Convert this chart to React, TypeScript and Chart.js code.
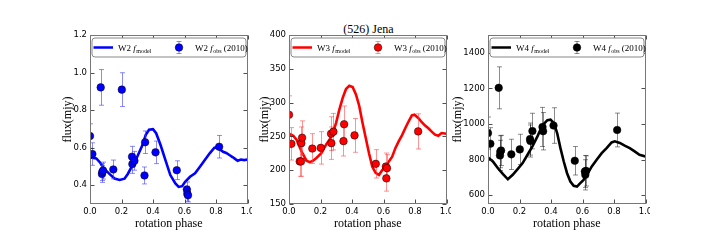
import React, { useEffect, useRef } from "react";
import { Chart, registerables } from "chart.js";
Chart.register(...registerables);

const titleText = "(526) Jena";
const xLabel = "rotation phase";
const yLabel = "flux(mjy)";
const obsSuffix = " (2010)";

const xTicks = [0.0, 0.2, 0.4, 0.6, 0.8, 1.0];
const w2Ticks = [0.4, 0.6, 0.8, 1.0, 1.2];
const w3Ticks = [150, 200, 250, 300, 350, 400];
const w4Ticks = [600, 800, 1000, 1200, 1400];

// observation phases (shared by the three bands)
const obsPhase = [0.0, 0.015, 0.068, 0.076, 0.078, 0.083, 0.148, 0.202, 0.267, 0.269, 0.282, 0.346, 0.35, 0.416, 0.551, 0.615, 0.618, 0.622, 0.82];

const w2Obs = [0.662, 0.566, 0.921, 0.46, 0.47, 0.478, 0.484, 0.909, 0.552, 0.513, 0.53, 0.452, 0.629, 0.575, 0.48, 0.377, 0.355, 0.346, 0.605];
const w2Err = [0.065, 0.06, 0.095, 0.045, 0.045, 0.045, 0.05, 0.09, 0.055, 0.05, 0.05, 0.045, 0.06, 0.06, 0.05, 0.04, 0.04, 0.035, 0.06];

const w3Obs = [282, 239, 213, 213, 240, 248, 232, 233, 254, 240, 257, 243, 268, 251.5, 209.4, 205.4, 188, 203, 257.4];
const w3Err = [28, 24, 22, 22, 24, 25, 22, 24, 25, 24, 27, 22, 27, 25, 21, 20, 19, 20, 26];

const w4Obs = [949, 889, 1203, 823, 844, 851, 829, 857, 915, 904, 960, 983, 959, 991, 793, 733, 714, 736, 966];
const w4Err = [90, 90, 118, 85, 90, 85, 85, 85, 90, 90, 100, 110, 105, 100, 80, 90, 85, 85, 95];

const w2ModelPhase = [0, 0.04, 0.065, 0.094, 0.125, 0.156, 0.188, 0.219, 0.24, 0.27, 0.3, 0.333, 0.354, 0.375, 0.4, 0.42, 0.448, 0.479, 0.51, 0.542, 0.563, 0.585, 0.604, 0.635, 0.667, 0.698, 0.729, 0.76, 0.79, 0.81, 0.823, 0.845, 0.865, 0.885, 0.905, 0.917, 0.937, 0.958, 0.979, 1.0];
const w2Model = [0.548, 0.543, 0.52, 0.484, 0.459, 0.436, 0.428, 0.435, 0.46, 0.507, 0.552, 0.614, 0.668, 0.695, 0.698, 0.677, 0.614, 0.534, 0.454, 0.409, 0.391, 0.395, 0.418, 0.445, 0.463, 0.498, 0.534, 0.57, 0.6, 0.602, 0.591, 0.578, 0.572, 0.561, 0.55, 0.543, 0.53, 0.537, 0.534, 0.537];

const w3ModelPhase = [0, 0.027, 0.048, 0.079, 0.111, 0.132, 0.153, 0.174, 0.205, 0.236, 0.257, 0.278, 0.299, 0.32, 0.341, 0.362, 0.383, 0.404, 0.425, 0.446, 0.467, 0.487, 0.508, 0.529, 0.55, 0.571, 0.592, 0.613, 0.634, 0.655, 0.676, 0.697, 0.718, 0.738, 0.759, 0.78, 0.797, 0.822, 0.843, 0.864, 0.885, 0.906, 0.927, 0.948, 0.969, 1.0];
const w3Model = [254, 251, 245, 228, 214, 212, 214, 218, 225, 238, 245, 255, 270, 290, 307, 320, 325, 323, 312, 295, 270, 248, 225, 205, 196, 193, 200, 205, 213, 220, 233, 243, 252, 262, 272, 281, 282, 277, 271, 266, 262, 257, 252.5, 251, 255, 254];

const w4ModelPhase = [0, 0.031, 0.063, 0.094, 0.126, 0.157, 0.188, 0.22, 0.251, 0.282, 0.314, 0.345, 0.377, 0.397, 0.418, 0.439, 0.46, 0.481, 0.502, 0.523, 0.544, 0.565, 0.586, 0.607, 0.628, 0.659, 0.69, 0.722, 0.753, 0.785, 0.805, 0.837, 0.868, 0.9, 0.931, 0.962, 1.0];
const w4Model = [812, 789, 751, 719, 689, 714, 746, 780, 827, 874, 930, 991, 1021, 1024, 1006, 949, 864, 789, 723, 676, 652, 648, 667, 686, 714, 761, 799, 836, 864, 896, 902, 893, 878, 864, 846, 827, 817];

const SERIF = '"Liberation Serif", "Times New Roman", serif';
const SANS = '"DejaVu Sans", sans-serif';

type Panel = {
  band: string;
  color: string;
  errColor: string;
  modelPhase: number[];
  model: number[];
  obs: number[];
  err: number[];
  yMin: number;
  yMax: number;
  yTicks: number[];
  decimals: number;
  left: number;
  titlePad: number;
};

const panels: Panel[] = [
  { band: "W2", color: "#0000ff", errColor: "rgba(60,60,255,0.6)", modelPhase: w2ModelPhase, model: w2Model, obs: w2Obs, err: w2Err, yMin: 0.3, yMax: 1.2, yTicks: w2Ticks, decimals: 1, left: 50, titlePad: 11 },
  { band: "W3", color: "#ff0000", errColor: "rgba(255,60,60,0.55)", modelPhase: w3ModelPhase, model: w3Model, obs: w3Obs, err: w3Err, yMin: 150, yMax: 400, yTicks: w3Ticks, decimals: 0, left: 249, titlePad: 9 },
  { band: "W4", color: "#000000", errColor: "rgba(0,0,0,0.45)", modelPhase: w4ModelPhase, model: w4Model, obs: w4Obs, err: w4Err, yMin: 550, yMax: 1500, yTicks: w4Ticks, decimals: 0, left: 448, titlePad: 3 },
];

const CANVAS_W = 202;
const CANVAS_H = 240;
const Y_AXIS_W = 40;
const X_AXIS_H = 36;
const PLOT_W = 159.5;

function drawLabel(ctx: CanvasRenderingContext2D, x: number, y: number, band: string, sub: string, suffix: string) {
  ctx.fillStyle = "#000";
  ctx.textBaseline = "alphabetic";
  ctx.textAlign = "left";
  ctx.font = `9px ${SERIF}`;
  const a = band + " ";
  ctx.fillText(a, x, y);
  x += ctx.measureText(a).width;
  ctx.font = `italic 9px ${SERIF}`;
  ctx.fillText("f", x, y);
  x += ctx.measureText("f").width + 0.5;
  ctx.font = `6px ${SERIF}`;
  ctx.fillText(sub, x, y + 2);
  x += ctx.measureText(sub).width;
  if (suffix) {
    ctx.font = `9px ${SERIF}`;
    ctx.fillText(suffix, x, y);
  }
}

function makePlugin(p: Panel) {
  return {
    id: "panelDecor" + p.band,
    beforeDatasetDraw(chart: any, args: any) {
      if (args.index !== 1) return;
      const { ctx, chartArea: a } = chart;
      const xs = chart.scales.x;
      const ys = chart.scales.y;
      ctx.save();
      ctx.beginPath();
      ctx.rect(a.left, a.top, a.right - a.left, a.bottom - a.top);
      ctx.clip();
      ctx.strokeStyle = p.errColor;
      ctx.lineWidth = 1;
      p.obs.forEach((v, i) => {
        const x = Math.round(xs.getPixelForValue(obsPhase[i])) + 0.5;
        const y1 = ys.getPixelForValue(v - p.err[i]);
        const y2 = ys.getPixelForValue(v + p.err[i]);
        ctx.beginPath();
        ctx.moveTo(x, y1);
        ctx.lineTo(x, y2);
        ctx.moveTo(x - 2.5, y1);
        ctx.lineTo(x + 2.5, y1);
        ctx.moveTo(x - 2.5, y2);
        ctx.lineTo(x + 2.5, y2);
        ctx.stroke();
      });
      ctx.restore();
    },
    afterDraw(chart: any) {
      const { ctx, chartArea: a } = chart;
      const xs = chart.scales.x;
      const ys = chart.scales.y;
      const L = Math.round(a.left) + 0.5;
      const R = Math.round(a.right) - 0.5;
      const T = Math.round(a.top) + 0.5;
      const B = Math.round(a.bottom) - 0.5;
      ctx.save();
      // inward ticks
      ctx.strokeStyle = "#222";
      ctx.lineWidth = 0.8;
      ctx.beginPath();
      xTicks.forEach((t) => {
        const x = Math.round(xs.getPixelForValue(t)) + 0.5;
        ctx.moveTo(x, B);
        ctx.lineTo(x, B - 4);
        ctx.moveTo(x, T);
        ctx.lineTo(x, T + 4);
      });
      p.yTicks.forEach((t) => {
        const y = Math.round(ys.getPixelForValue(t)) + 0.5;
        ctx.moveTo(L, y);
        ctx.lineTo(L + 4, y);
        ctx.moveTo(R, y);
        ctx.lineTo(R - 4, y);
      });
      ctx.stroke();
      // frame
      ctx.strokeStyle = "#777";
      ctx.lineWidth = 1;
      ctx.strokeRect(L, T, R - L, B - T);

      // legend
      const bx = L + 1.5;
      const by = T + 2.5;
      const bw = R - L - 3;
      const bh = 19;
      ctx.beginPath();
      ctx.roundRect(bx, by, bw, bh, 3);
      ctx.fillStyle = "#fff";
      ctx.fill();
      ctx.strokeStyle = "#888";
      ctx.lineWidth = 1;
      ctx.stroke();
      const cy = by + bh / 2;
      ctx.strokeStyle = p.color;
      ctx.lineWidth = 2.5;
      ctx.beginPath();
      ctx.moveTo(a.left + 3.5, cy);
      ctx.lineTo(a.left + 23, cy);
      ctx.stroke();
      drawLabel(ctx, a.left + 28, cy + 3, p.band, "model", "");
      const mx = a.left + 89;
      ctx.strokeStyle = p.errColor;
      ctx.lineWidth = 1;
      ctx.beginPath();
      ctx.moveTo(mx, cy - 6);
      ctx.lineTo(mx, cy + 6);
      ctx.moveTo(mx - 2.5, cy - 6);
      ctx.lineTo(mx + 2.5, cy - 6);
      ctx.moveTo(mx - 2.5, cy + 6);
      ctx.lineTo(mx + 2.5, cy + 6);
      ctx.stroke();
      ctx.beginPath();
      ctx.arc(mx, cy, 3.8, 0, Math.PI * 2);
      ctx.fillStyle = p.color;
      ctx.fill();
      ctx.strokeStyle = "#000";
      ctx.lineWidth = 0.5;
      ctx.stroke();
      drawLabel(ctx, a.left + 105, cy + 3, p.band, "obs", obsSuffix);
      ctx.restore();
    },
  };
}

function PanelChart({ p }: { p: Panel }) {
  const ref = useRef<HTMLCanvasElement | null>(null);
  useEffect(() => {
    if (!ref.current) return;
    const chart = new Chart(ref.current, {
      type: "scatter",
      data: {
        datasets: [
          {
            label: p.band + " model",
            data: p.modelPhase.map((x, i) => ({ x, y: p.model[i] })),
            showLine: true,
            borderColor: p.color,
            borderWidth: 2.6,
            pointRadius: 0,
            tension: 0,
            order: 1,
            clip: 0,
          },
          {
            label: p.band + " obs",
            data: obsPhase.map((x, i) => ({ x, y: p.obs[i] })),
            showLine: false,
            backgroundColor: p.color,
            borderColor: "#000",
            borderWidth: 0.5,
            pointRadius: 3.8,
            order: 0,
            clip: 0,
          },
        ],
      } as any,
      options: {
        animation: false,
        responsive: false,
        maintainAspectRatio: false,
        layout: { padding: { top: 35, left: 0, right: CANVAS_W - Y_AXIS_W - PLOT_W, bottom: 0 } },
        plugins: { legend: { display: false }, tooltip: { enabled: false }, title: { display: false } },
        scales: {
          x: {
            type: "linear",
            min: 0,
            max: 1,
            grid: { display: false, drawTicks: false },
            border: { display: false },
            afterBuildTicks: (s: any) => {
              s.ticks = xTicks.map((v) => ({ value: v }));
            },
            afterFit: (s: any) => {
              s.height = X_AXIS_H;
              s.paddingLeft = 0;
              s.paddingRight = 0;
            },
            ticks: {
              padding: 3,
              maxRotation: 0,
              autoSkip: false,
              color: "#000",
              font: { family: SANS, size: 8.5 },
              callback: (v: any) => Number(v).toFixed(1),
            },
            title: {
              display: true,
              text: xLabel,
              color: "#000",
              font: { family: SERIF, size: 12 },
              padding: { top: 0, bottom: 9 },
            },
          },
          y: {
            type: "linear",
            min: p.yMin,
            max: p.yMax,
            grid: { display: false, drawTicks: false },
            border: { display: false },
            afterBuildTicks: (s: any) => {
              s.ticks = p.yTicks.map((v) => ({ value: v }));
            },
            afterFit: (s: any) => {
              s.width = Y_AXIS_W;
              s.paddingTop = 0;
              s.paddingBottom = 0;
            },
            ticks: {
              padding: 3,
              autoSkip: false,
              color: "#000",
              font: { family: SANS, size: 8.5 },
              callback: (v: any) => Number(v).toFixed(p.decimals),
            },
            title: {
              display: true,
              text: yLabel,
              color: "#000",
              font: { family: SERIF, size: 12 },
              padding: { top: p.titlePad, bottom: 0 },
            },
          },
        },
      } as any,
      plugins: [makePlugin(p)],
    });
    return () => chart.destroy();
  }, [p]);
  return (
    <canvas
      ref={ref}
      width={CANVAS_W}
      height={CANVAS_H}
      style={{ position: "absolute", left: p.left, top: 0, width: CANVAS_W, height: CANVAS_H }}
    />
  );
}

export default function App() {
  return (
    <div style={{ position: "fixed", left: 0, top: 0, width: 720, height: 240, background: "#fff", overflow: "hidden" }}>
      <div
        style={{
          position: "absolute",
          left: 268.5,
          width: 200,
          top: 22,
          textAlign: "center",
          fontFamily: SERIF,
          fontSize: 12,
          lineHeight: "14px",
          color: "#000",
        }}
      >
        {titleText}
      </div>
      {panels.map((p) => (
        <PanelChart key={p.band} p={p} />
      ))}
    </div>
  );
}
